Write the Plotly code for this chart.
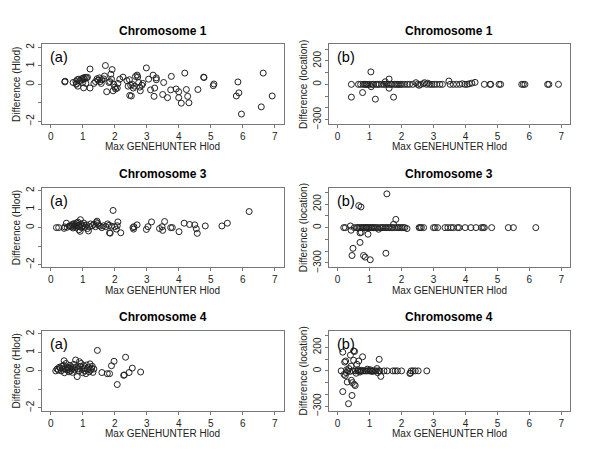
import plotly.graph_objects as go

# ---------------- data ----------------
chr1_hlod_x = [0.44,0.45,0.70,0.79,0.81,0.83,0.80,0.85,0.88,0.92,0.97,1.00,1.02,1.05,1.08,1.12,1.15,1.03,1.00,1.10,
               1.23,1.23,1.35,1.40,1.45,1.48,1.52,1.55,1.58,1.60,1.65,1.71,1.68,1.75,1.82,1.85,1.88,1.92,1.90,1.95,
               1.97,2.00,2.03,2.08,2.10,2.16,2.26,2.38,2.42,2.46,2.50,2.47,2.52,2.55,2.58,2.62,2.65,2.70,2.72,2.75,
               2.78,2.80,2.85,2.88,2.99,3.06,3.12,3.20,3.23,3.25,3.30,3.30,3.50,3.53,3.65,3.75,3.77,3.92,4.00,4.00,
               4.08,4.19,4.24,4.28,4.32,4.60,4.78,4.79,5.08,5.10,5.80,5.85,5.88,5.96,6.58,6.64,6.92]
chr1_hlod_d = [0.13,0.17,0.10,0.15,0.05,0.25,0.00,-0.10,0.28,0.20,0.30,0.25,0.35,0.30,0.38,0.35,0.38,-0.19,0.10,0.05,
               0.83,-0.20,0.05,0.15,0.30,0.22,0.35,0.15,0.05,0.25,0.30,1.02,0.45,-0.40,0.10,0.15,0.55,0.80,0.28,-0.35,
               0.00,-0.15,-0.25,-0.20,0.05,0.28,0.39,0.20,-0.10,0.25,-0.05,-0.60,-0.63,0.00,-0.20,-0.10,0.43,0.50,0.40,0.10,
               -0.15,-0.35,-0.05,0.05,0.89,0.28,-0.30,0.50,-0.65,-0.20,0.35,0.25,-0.55,0.10,-0.72,-0.30,0.43,-0.25,-0.40,-0.72,
               -1.02,0.61,-0.28,-0.65,-1.00,-0.28,0.39,0.37,-0.07,0.02,-0.63,0.13,-0.46,-1.61,-1.22,0.61,-0.63]

chr1_loc_x = [0.43,0.43,0.65,0.72,0.78,0.80,0.85,0.88,0.92,0.95,1.00,1.04,1.05,1.08,1.12,1.18,1.20,1.25,1.30,1.38,
              1.45,1.49,1.52,1.58,1.61,1.61,1.65,1.70,1.75,1.78,1.82,1.88,1.92,1.97,2.02,2.10,2.18,2.25,2.35,2.45,
              2.50,2.55,2.60,2.68,2.72,2.78,2.82,2.88,2.95,3.02,3.10,3.20,3.28,3.48,3.52,3.62,3.72,3.82,3.90,3.98,
              4.05,4.12,4.20,4.30,4.59,4.77,4.79,5.05,5.10,5.76,5.81,5.86,6.57,6.61,6.91]
chr1_loc_d = [0,-109,0,0,-70,0,0,0,0,0,0,106,-20,0,0,-126,0,0,0,0,
              0,22,0,0,45,-33,0,0,-109,0,0,0,0,0,0,0,0,0,0,14,
              0,-8,0,5,14,0,10,0,0,0,0,0,0,28,0,0,0,0,5,0,
              0,5,10,17,0,0,0,0,0,0,0,0,0,0,0]

chr3_hlod_x = [0.18,0.25,0.42,0.44,0.49,0.52,0.58,0.62,0.66,0.68,0.70,0.72,0.74,0.76,0.78,0.80,0.82,0.85,0.86,0.88,
               0.90,0.92,0.93,0.95,0.97,1.00,1.03,1.05,1.08,1.12,1.15,1.18,1.22,1.25,1.30,1.35,1.40,1.43,1.45,1.47,
               1.50,1.55,1.60,1.65,1.72,1.78,1.82,1.84,1.86,1.90,1.95,2.00,2.05,2.08,2.10,2.19,2.57,2.59,2.60,2.70,
               2.99,3.04,3.15,3.40,3.48,3.50,3.56,3.75,3.80,4.01,4.17,4.34,4.50,4.55,4.58,4.83,5.35,5.52,6.20]
chr3_hlod_d = [0.00,0.00,-0.04,0.04,0.24,0.02,0.08,0.10,0.05,0.18,-0.02,0.12,0.22,0.08,0.15,0.02,0.25,0.30,0.10,-0.12,
               0.05,-0.20,0.43,0.18,0.00,0.08,0.25,0.12,0.02,0.15,-0.05,-0.18,0.05,0.20,0.10,0.18,0.05,0.28,0.35,0.22,
               0.12,0.08,0.00,0.10,0.05,0.20,0.12,-0.28,-0.30,0.08,0.93,0.05,-0.08,0.10,0.31,-0.28,0.00,-0.08,0.05,0.15,
               -0.10,0.05,0.31,-0.05,0.05,-0.15,0.33,0.00,0.00,-0.22,0.24,0.17,0.15,-0.06,-0.31,0.09,0.09,0.24,0.87]

chr3_loc_x = [0.19,0.24,0.40,0.42,0.45,0.48,0.52,0.60,0.63,0.66,0.68,0.70,0.70,0.72,0.73,0.74,0.76,0.80,0.81,0.84,
              0.86,0.88,0.90,0.92,0.95,0.97,1.00,1.02,1.05,1.08,1.12,1.15,1.20,1.25,1.28,1.32,1.38,1.42,1.48,1.51,
              1.52,1.54,1.58,1.62,1.68,1.72,1.75,1.78,1.82,1.85,1.90,1.95,2.00,2.05,2.10,2.17,2.55,2.58,2.62,2.69,
              3.00,3.05,3.13,3.36,3.45,3.55,3.62,3.75,3.80,3.99,4.17,4.33,4.50,4.55,4.59,4.82,5.34,5.50,6.20]
chr3_loc_d = [0,0,14,-22,-237,-176,0,0,0,187,0,-126,-45,0,176,-40,0,0,-237,0,
              -251,0,0,0,-56,0,0,-273,0,0,0,0,0,0,-14,0,0,0,0,-218,
              0,287,0,0,0,0,28,0,70,0,0,0,0,0,0,-8,0,0,0,0,
              0,0,0,0,0,0,0,0,0,0,0,0,0,0,0,0,0,0,0]

chr4_hlod_x = [0.16,0.20,0.24,0.27,0.30,0.33,0.36,0.38,0.40,0.42,0.43,0.45,0.48,0.50,0.52,0.55,0.57,0.58,0.60,0.62,
               0.63,0.65,0.68,0.70,0.72,0.75,0.78,0.80,0.83,0.85,0.88,0.90,0.92,0.95,0.98,1.00,1.03,1.05,1.08,1.10,
               1.12,1.15,1.18,1.20,1.23,1.25,1.28,1.30,1.32,1.35,1.46,1.60,1.77,1.84,1.90,1.98,2.08,2.28,2.30,2.34,
               2.45,2.55,2.81]
chr4_hlod_d = [0.00,0.10,0.05,0.20,0.15,0.00,0.25,0.10,0.30,0.55,-0.10,0.12,0.40,0.05,0.20,0.08,-0.05,0.15,0.30,0.00,
               0.22,0.10,-0.08,0.18,0.35,0.05,0.59,0.20,-0.31,0.10,0.00,0.50,0.25,0.40,0.08,-0.10,0.28,0.15,0.00,-0.15,
               0.32,0.10,0.20,-0.05,0.38,0.05,0.15,0.25,-0.08,0.10,1.11,-0.09,-0.15,-0.15,0.28,0.52,-0.74,-0.24,-0.22,0.74,
               -0.09,0.15,-0.06]

chr4_loc_x = [0.11,0.16,0.16,0.20,0.22,0.24,0.25,0.27,0.28,0.30,0.32,0.34,0.35,0.38,0.40,0.42,0.43,0.45,0.46,0.48,
              0.50,0.50,0.52,0.53,0.55,0.56,0.58,0.60,0.62,0.64,0.66,0.68,0.70,0.72,0.75,0.78,0.80,0.85,0.90,0.93,
              0.95,1.00,1.02,1.05,1.08,1.10,1.15,1.20,1.23,1.25,1.28,1.30,1.32,1.35,1.45,1.55,1.73,1.80,1.87,2.00,
              2.26,2.28,2.30,2.36,2.43,2.52,2.79]
chr4_loc_d = [0,159,-176,-30,75,-40,84,-15,10,-95,0,-279,20,-5,134,40,-80,-209,-100,0,
              170,90,-115,165,-125,0,-20,56,0,10,84,0,-10,0,5,120,0,0,0,15,
              0,0,10,0,-5,0,0,0,20,-15,0,98,0,-47,0,0,0,0,0,0,
              -22,-18,0,0,0,0,0]

titles = ["Chromosome 1", "Chromosome 3", "Chromosome 4"]
panel_labels = ["(a)", "(b)"]
x_title = "Max GENEHUNTER Hlod"
y_titles = ["Difference (Hlod)", "Difference (location)"]
x_ticks = [0, 1, 2, 3, 4, 5, 6, 7]
hlod_ticks = [-2, -1, 0, 1, 2]
hlod_ticktext = ["\u22122", "", "0", "1", "2"]
loc_ticks = [-300, -200, -100, 0, 100, 200, 300]
loc_ticktext = ["\u2212300", "", "", "0", "", "200", ""]

series = [
    (chr1_hlod_x, chr1_hlod_d), (chr1_loc_x, chr1_loc_d),
    (chr3_hlod_x, chr3_hlod_d), (chr3_loc_x, chr3_loc_d),
    (chr4_hlod_x, chr4_hlod_d), (chr4_loc_x, chr4_loc_d),
]

# ---------------- layout geometry (page pixels; the page body adds an 8px margin) ----------------
OFF = 8
W, H = 600 - OFF, 465 - OFF
col_px = [(41.7, 283.7), (328.7, 570.3)]
row_px = [(43, 124), (188.5, 269.5), (334, 415)]


def px_x(p):
    return (p - OFF) / W


def px_y(p):
    return (H - (p - OFF)) / H


FONT = "Liberation Sans, Arial, Helvetica, sans-serif"
fig = go.Figure()
layout = dict(width=W, height=H, autosize=False, margin=dict(l=0, r=0, t=0, b=0, pad=0),
              paper_bgcolor="white", plot_bgcolor="white", showlegend=False,
              font=dict(family=FONT, size=10, color="#222"))
annotations = []

for r in range(3):
    for c in range(2):
        k = r * 2 + c + 1
        sfx = "" if k == 1 else str(k)
        xs, ys = series[k - 1]
        fig.add_trace(go.Scatter(
            x=xs, y=ys, mode="markers", xaxis=f"x{sfx}", yaxis=f"y{sfx}",
            marker=dict(symbol="circle-open", size=6, color="#222", line=dict(width=1, color="#222")),
            hoverinfo="skip", cliponaxis=True))
        x0, x1 = col_px[c]
        t, b = row_px[r]
        xd = [px_x(x0), px_x(x1)]
        yd = [px_y(b), px_y(t)]
        axstyle = dict(showgrid=False, zeroline=False, showline=True, mirror=True,
                       linecolor="#777", linewidth=1, ticks="outside", ticklen=3,
                       tickcolor="#777", tickwidth=1, tickfont=dict(family=FONT, size=10, color="#222"))
        layout[f"xaxis{k}"] = dict(domain=xd, range=[-0.28, 7.28], anchor=f"y{sfx}",
                                   tickmode="array", tickvals=x_ticks,
                                   ticktext=[str(v) for v in x_ticks], **axstyle)
        if c == 0:
            yr, tv, tt = [-2.16, 2.16], hlod_ticks, hlod_ticktext
        else:
            yr, tv, tt = [-339, 339], loc_ticks, loc_ticktext
        layout[f"yaxis{k}"] = dict(domain=yd, range=yr, anchor=f"x{sfx}", tickmode="array",
                                   tickvals=tv, ticktext=tt, tickangle=-90, **axstyle)
        cx = px_x((x0 + x1) / 2)
        # panel title
        annotations.append(dict(text=f"<b>{titles[r]}</b>", xref="paper", yref="paper",
                                x=cx, y=px_y(t - 14), xanchor="center", yanchor="middle",
                                showarrow=False, font=dict(family=FONT, size=12, color="black")))
        # x title
        annotations.append(dict(text=x_title, xref="paper", yref="paper",
                                x=cx, y=px_y(b + 23), xanchor="center", yanchor="middle",
                                showarrow=False, font=dict(family=FONT, size=10, color="#222")))
        # y title
        annotations.append(dict(text=y_titles[c], xref="paper", yref="paper",
                                x=px_x(x0 - 25), y=px_y((t + b) / 2), xanchor="center", yanchor="middle",
                                textangle=-90, showarrow=False, font=dict(family=FONT, size=10, color="#222")))
        # (a)/(b)
        annotations.append(dict(text=panel_labels[c], xref="paper", yref="paper",
                                x=px_x(x0 + 6), y=px_y(t + 13), xanchor="left", yanchor="middle",
                                showarrow=False, font=dict(family=FONT, size=14.5, color="black")))

layout["annotations"] = annotations
fig.update_layout(**layout)
fig.write_html("out.html")
